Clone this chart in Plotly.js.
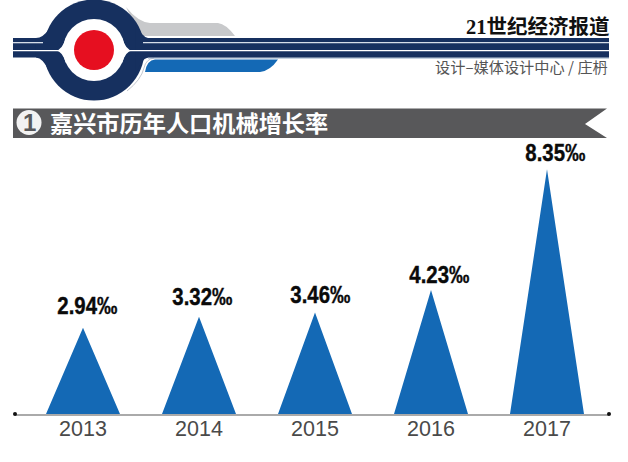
<!DOCTYPE html>
<html><head><meta charset="utf-8">
<script src="https://cdn.plot.ly/plotly-3.0.1.min.js"></script>
<style>html,body{margin:0;padding:0;background:#fff}</style>
</head><body><div id="chart" style="width:628px;height:462px"></div>
<script>
const years = [2013, 2014, 2015, 2016, 2017];
const rates = [2.94, 3.32, 3.46, 4.23, 8.35];
const rateLabels = ['2.94‰', '3.32‰', '3.46‰', '4.23‰', '8.35‰'];
const tickLabels = ['2013', '2014', '2015', '2016', '2017'];
const chartTitle = '嘉兴市历年人口机械增长率';
const brandName = '21世纪经济报道';
const credit = '设计–媒体设计中心 / 庄枬';

// page geometry
const W = 628, H = 462, L = 15, R = 19, T = 121, B = 48;
const PW = W - L - R, PH = H - T - B;
const px = x => (x - L) / PW;
const py = y => (H - B - y) / PH;
const P = (x, y) => px(x).toFixed(5) + ',' + py(y).toFixed(5);

const NAVY = '#16305f', WHITE = '#ffffff', BLUE = '#1469b5';
const halfWidth = 0.319;
const labelShiftX = [4, 3, 5, 8, 8];
const labelShiftY = [22, 20, 18, 16, 17];

// triangles
const triX = [], triY = [];
years.forEach((yr, i) => {
  triX.push(yr - halfWidth, yr, yr + halfWidth, yr - halfWidth, null);
  triY.push(0, rates[i], 0, 0, null);
});
const traces = [{
  type: 'scatter', mode: 'lines', x: triX, y: triY, fill: 'toself',
  fillcolor: BLUE, line: {width: 0, color: BLUE}, hoverinfo: 'skip', showlegend: false
}];

function rect(x0, y0, x1, y1, c) {
  return {type: 'rect', xref: 'paper', yref: 'paper', x0: px(x0), x1: px(x1), y0: py(y0), y1: py(y1),
          fillcolor: c, line: {width: 0}, layer: 'above'};
}
function circ(cx, cy, r, c) {
  return {type: 'circle', xref: 'paper', yref: 'paper', x0: px(cx - r), x1: px(cx + r), y0: py(cy + r), y1: py(cy - r),
          fillcolor: c, line: {width: 0}, layer: 'above'};
}
function path(d, c) {
  return {type: 'path', xref: 'paper', yref: 'paper', path: d, fillcolor: c, line: {width: 0}, layer: 'above'};
}
function stroke(d, c, w) {
  return {type: 'path', xref: 'paper', yref: 'paper', path: d, line: {width: w, color: c}, layer: 'above'};
}
const shapes = [
  // grey wing
  path(`M${P(126, 7)} Q${P(138, 22)} ${P(150, 23)} L${P(218, 23)} Q${P(226, 24)} ${P(235, 36)} L${P(140, 36)} Z`, '#c8c9cb'),
  // blue wing with its thin outline
  stroke(`M${P(127, 91)} Q${P(141, 80)} ${P(144, 68)} Q${P(146, 59)} ${P(154, 58)}`, '#c4c8cf', 1),
  path(`M${P(145, 72)} Q${P(147, 60)} ${P(155, 59.5)} L${P(278, 59.5)} Q${P(270, 71)} ${P(260, 72)} Z`, BLUE),
  rect(148, 57.5, 609, 58.5, '#8aa3c0'),
  // navy bands
  rect(13, 38, 609, 57.5, NAVY),
  // navy ring + flares
  circ(94, 50, 50.5, NAVY),
  path(`M${P(36, 38)} Q${P(43, 38)} ${P(49, 29)} L${P(49, 71)} Q${P(43, 58)} ${P(36, 57.5)} Z`, NAVY),
  path(`M${P(148, 38)} Q${P(142, 37)} ${P(136, 24)} L${P(136, 74)} Q${P(141, 59)} ${P(148, 57.5)} Z`, NAVY),
  // white lines
  rect(13, 42, 43, 43.3, '#d5dde8'),
  rect(143, 42, 609, 43.3, '#d5dde8'),
  rect(13, 50, 60, 51.2, WHITE),
  rect(128, 50, 609, 51.2, WHITE),
  // eye
  circ(94, 50, 31, WHITE),
  path(`M${P(56, 50.5)} Q${P(62, 50)} ${P(66, 38)} L${P(66, 63)} Q${P(62, 51)} ${P(56, 50.5)} Z`, WHITE),
  path(`M${P(132, 50.5)} Q${P(126, 50)} ${P(122, 38)} L${P(122, 63)} Q${P(126, 51)} ${P(132, 50.5)} Z`, WHITE),
  circ(94, 50, 20, '#e60f20'),
  // title ribbon
  path(`M${P(13, 108.5)} L${P(607, 108.5)} L${P(585, 124)} L${P(607, 138)} L${P(13, 138)} Z`, '#58585a'),
  circ(29, 122.5, 12.5, '#f2f2f2'),
  // baseline dots
  circ(15, 414, 2, '#111111'),
  circ(609, 414, 2, '#111111')
];

const sans = '"Noto Sans CJK SC", sans-serif';
const annotations = [
  {xref: 'paper', yref: 'paper', x: px(612), y: py(26), xanchor: 'right', yanchor: 'middle', showarrow: false,
   text: '<b>' + brandName + '</b>', font: {family: '"Liberation Serif", "Noto Sans CJK SC", serif', size: 20.5, color: '#111'}},
  {xref: 'paper', yref: 'paper', x: px(610), y: py(66), xanchor: 'right', yanchor: 'middle', showarrow: false,
   text: credit, font: {family: sans, size: 15.2, color: '#555'}},
  {xref: 'paper', yref: 'paper', x: px(48), y: py(122.5), xanchor: 'left', yanchor: 'middle', showarrow: false,
   text: '<b>' + chartTitle + '</b>', font: {family: sans, size: 23.2, color: '#fff'}},
  {xref: 'paper', yref: 'paper', x: px(29), y: py(122.5), xanchor: 'center', yanchor: 'middle', showarrow: false,
   text: '<b>1</b>', font: {family: '"Liberation Sans", sans-serif', size: 24, color: '#58585a'}}
];
years.forEach((yr, i) => annotations.push({
  x: yr, y: rates[i], xref: 'x', yref: 'y', xanchor: 'center', yanchor: 'middle',
  xshift: labelShiftX[i], yshift: labelShiftY[i], showarrow: false, text: '<b>' + rateLabels[i] + '</b>',
  font: {family: '"Liberation Sans", sans-serif', size: 24, color: '#0a0a0a'}
}));

const layout = {
  width: W, height: H, autosize: false,
  margin: {l: L, r: R, t: T, b: B, pad: 0},
  paper_bgcolor: '#fff', plot_bgcolor: '#fff', showlegend: false,
  xaxis: {
    range: [2013 - 68 / 116, 2017 + 62 / 116], tickmode: 'array', tickvals: years, ticktext: tickLabels,
    showgrid: false, zeroline: false, showline: true, linecolor: '#aaaaaa', linewidth: 1.5,
    ticks: '', ticklabelstandoff: -5, tickfont: {family: '"Liberation Sans", sans-serif', size: 21.5, color: '#4a4a4a'}, fixedrange: true
  },
  yaxis: {range: [0, 10], visible: false, fixedrange: true},
  shapes, annotations
};
Plotly.newPlot('chart', traces, layout, {displayModeBar: false, staticPlot: true}).then(() => {
  // The reference uses a heavy condensed face: squeeze the bold value labels to that width.
  document.querySelectorAll('#chart .annotation-text').forEach(t => {
    if (t.textContent.includes('‰')) {
      t.setAttribute('textLength', '60');
      t.setAttribute('lengthAdjust', 'spacingAndGlyphs');
      t.style.stroke = '#0a0a0a';
      t.style.strokeWidth = '0.4px';
    }
  });
});
</script></body></html>
